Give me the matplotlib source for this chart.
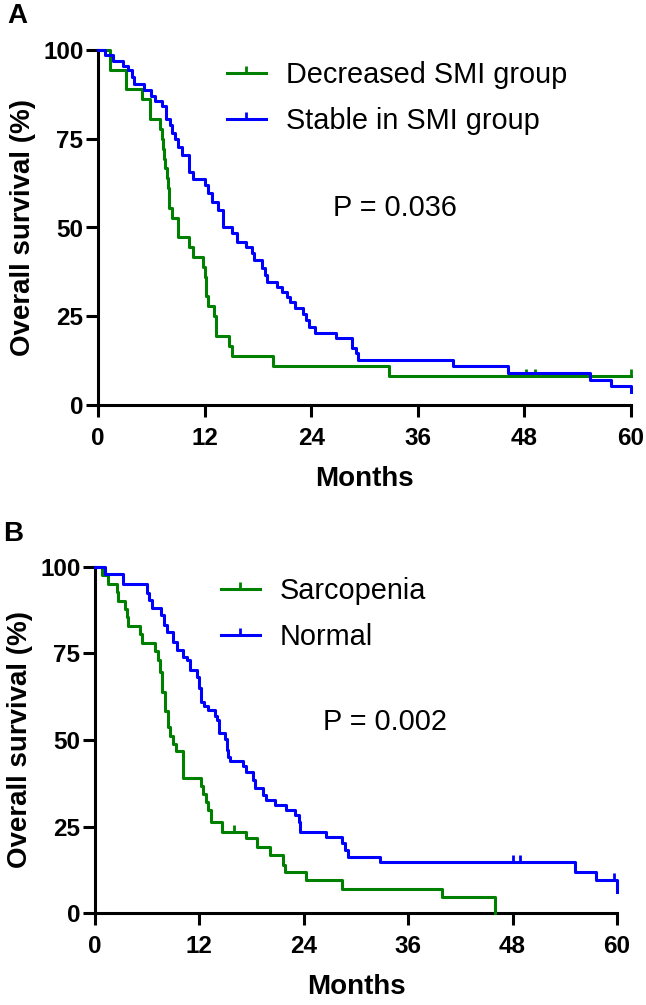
import numpy as np
import matplotlib
matplotlib.use("Agg")
import matplotlib.pyplot as plt
from matplotlib.lines import Line2D
from matplotlib.path import Path

plt.rcParams["font.family"] = ["Liberation Sans", "DejaVu Sans"]

GREEN = "#008000"
BLUE = "#0000FF"

# Panel A: Kaplan-Meier steps (months, % surviving)
a_dec_t = [0, 1.35, 3.1, 5.0, 5.9, 7.0, 7.2, 7.35, 7.4, 7.55, 7.75, 7.85, 7.95, 8.3, 9.0,
           10.3, 10.7, 11.8, 12.05, 12.2, 12.4, 13.05, 13.3, 14.8, 15.05, 19.75, 32.8, 60]
a_dec_s = [100, 94.4, 88.9, 86.1, 80.6, 77.8, 75.0, 72.2, 69.4, 66.7, 63.9, 61.1, 55.6, 52.8, 47.2,
           44.4, 41.7, 38.9, 36.1, 30.6, 27.8, 25.0, 19.4, 16.7, 13.9, 11.1, 8.3, 8.3]
a_dec_cens = [48.2, 49.2, 60]

a_stb_t = [0, 0.8, 1.7, 2.85, 3.4, 3.8, 4.0, 5.2, 6.0, 6.4,
           7.2, 7.7, 8.1, 8.3, 8.7, 9.05, 9.4, 10.2, 10.3, 10.7,
           12.06, 12.4, 12.8, 13.5, 14.1, 15.1, 15.6, 16.7, 17.3, 17.6,
           18.5, 18.8, 19.0, 20.1, 20.7, 21.3, 21.6, 22.2, 23.1, 23.4,
           23.7, 24.4, 26.8, 28.6, 29.0, 29.3, 40.0, 46.2, 55.4, 57.8, 60.0]
a_stb_s = [100, 98.5, 97.0, 95.5, 94.3, 92.5, 90.5, 88.7, 87.1, 85.7,
           84.2, 80.5, 79.0, 76.7, 75.0, 72.8, 70.5, 67.5, 65.5, 63.8,
           62.0, 59.6, 57.3, 54.9, 50.2, 48.4, 46.0, 44.5, 42.7, 40.8,
           38.5, 36.6, 34.7, 33.3, 31.9, 30.5, 29.1, 27.2, 25.6, 23.9,
           22.1, 20.4, 18.8, 16.0, 14.6, 12.7, 11.1, 9.1, 7.0, 5.4, 3.7]
a_stb_cens = []

# Panel B
b_sar_t = [0, 0.8, 1.5, 2.5, 2.7, 3.45, 3.65, 3.85, 5.17, 5.36,
           6.9, 7.28, 7.47, 7.66, 8.05, 8.43, 8.65, 8.95, 9.3, 10.1,
           12.2, 12.45, 12.8, 13.0, 13.3, 14.56, 17.36, 18.66, 20.1, 21.65,
           21.8, 24.2, 28.4, 39.85, 46.0]
b_sar_s = [100, 97.6, 95.1, 92.7, 90.2, 87.8, 85.4, 82.9, 80.5, 78.0,
           75.6, 73.2, 69.7, 63.9, 58.5, 53.8, 51.2, 48.8, 46.7, 39.0,
           36.8, 34.4, 32.2, 29.8, 26.4, 23.5, 21.6, 19.2, 16.8, 13.9,
           11.9, 9.6, 6.9, 4.6, 0]
b_sar_cens = [16.0]

b_nor_t = [0, 1.15, 3.26, 5.94, 6.25, 6.6, 7.55, 7.93, 8.24, 8.93,
           9.39, 10.15, 10.6, 10.9, 11.7, 12.0, 12.2, 12.5, 13.0, 13.8,
           14.0, 14.2, 14.9, 15.13, 15.3, 15.5, 17.0, 17.3, 18.2, 18.4,
           19.35, 19.7, 20.7, 22.0, 23.0, 23.4, 23.56, 26.6, 28.4, 28.7,
           29.1, 32.8, 55.2, 57.6, 60.0]
b_nor_s = [100, 97.9, 95.1, 92.5, 90.3, 88.2, 86.0, 83.2, 81.2, 78.4,
           76.0, 74.0, 73.0, 70.2, 68.3, 64.9, 61.0, 59.8, 58.7, 56.8,
           55.8, 51.9, 50.3, 47.1, 45.2, 44.0, 42.5, 40.7, 38.5, 36.1,
           34.1, 32.7, 31.2, 29.8, 28.3, 26.4, 23.5, 22.1, 20.2, 18.3,
           16.3, 14.9, 12.0, 9.6, 6.2]
b_nor_cens = [48.0, 48.85, 59.6]

x_ticks = [0, 12, 24, 36, 48, 60]
y_ticks = [0, 25, 50, 75, 100]

# censor tick: short vertical stroke upward from the curve
TICK = Path([(0, 0), (0, 1)], [Path.MOVETO, Path.LINETO])
LW = 2.2


def surv_at(t, s, tc):
    i = np.searchsorted(t, tc, side="right") - 1
    return s[i]


def km_curve(ax, t, s, cens, color):
    ax.step(t, s, where="post", color=color, lw=LW, clip_on=False, zorder=3)
    if cens:
        ys = [surv_at(np.array(t), np.array(s), c) for c in cens]
        ax.plot(cens, ys, ls="none", marker=TICK, ms=10, mew=2, color=color,
                clip_on=False, zorder=3)


def style_axes(ax):
    ax.set_xlim(0, 60)
    ax.set_ylim(0, 100)
    ax.set_xticks(x_ticks)
    ax.set_yticks(y_ticks)
    for side in ["top", "right"]:
        ax.spines[side].set_visible(False)
    for side in ["left", "bottom"]:
        ax.spines[side].set_linewidth(LW)
    ax.tick_params(direction="out", length=8.5, width=LW)
    ax.tick_params(axis="x", pad=7)
    ax.tick_params(axis="y", pad=2)
    for lab in ax.get_xticklabels() + ax.get_yticklabels():
        lab.set_fontweight("bold")
        lab.set_fontsize(17.5)
    ax.set_xlabel("Months", fontsize=20, fontweight="bold", labelpad=12)
    ax.set_ylabel("Overall survival (%)", fontsize=20, fontweight="bold", labelpad=5)


def add_legend(ax, labels, anchor):
    handles = [Line2D([], [], color=c, lw=LW, marker=TICK, ms=10, mew=2)
               for c in (GREEN, BLUE)]
    ax.legend(handles, labels, loc="upper left", bbox_to_anchor=anchor,
              frameon=False, fontsize=20.8, numpoints=1, handlelength=1.35,
              handletextpad=0.7, labelspacing=0.62, borderpad=0, borderaxespad=0)


fig = plt.figure(figsize=(6.46, 10.05), dpi=100)
axA = fig.add_axes([98 / 646, 1 - 405 / 1005, 533 / 646, 355 / 1005])
axB = fig.add_axes([95 / 646, 1 - 913.3 / 1005, 522 / 646, 346.6 / 1005])

km_curve(axA, a_dec_t, a_dec_s, a_dec_cens, GREEN)
km_curve(axA, a_stb_t, a_stb_s, a_stb_cens, BLUE)
style_axes(axA)
add_legend(axA, ["Decreased SMI group", "Stable in SMI group"], (0.242, 0.968))
axA.text(26.4, 55.5, "P = 0.036", fontsize=20.8, ha="left", va="center")

km_curve(axB, b_sar_t, b_sar_s, b_sar_cens, GREEN)
km_curve(axB, b_nor_t, b_nor_s, b_nor_cens, BLUE)
style_axes(axB)
add_legend(axB, ["Sarcopenia", "Normal"], (0.241, 0.969))
axB.text(26.2, 55.2, "P = 0.002", fontsize=20.8, ha="left", va="center")

fig.text(17 / 646, 1 - 16 / 1005, "A", fontsize=20, fontweight="bold", ha="center", va="center")
fig.text(13 / 646, 1 - 534 / 1005, "B", fontsize=20, fontweight="bold", ha="center", va="center")

fig.savefig("out.png", dpi=100)
